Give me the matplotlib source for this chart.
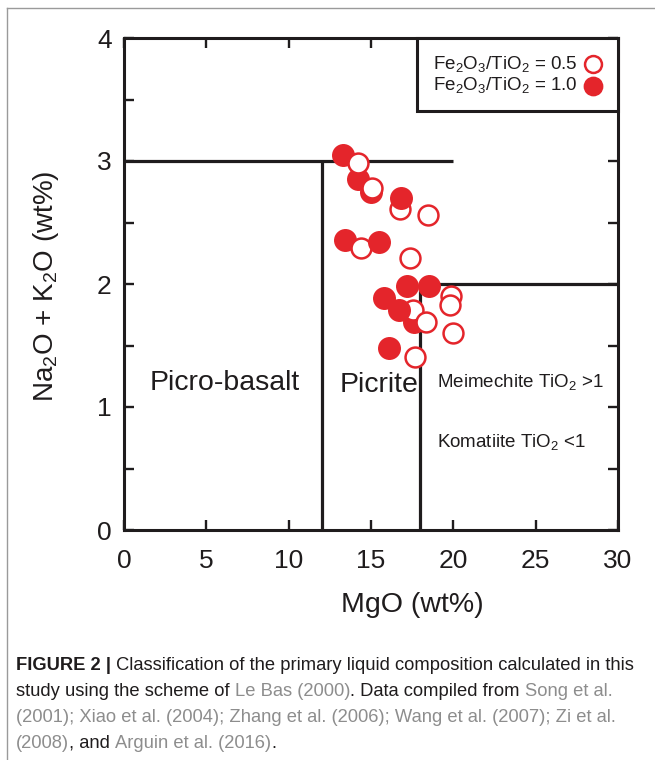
import matplotlib
matplotlib.use("Agg")
import matplotlib.pyplot as plt
from matplotlib.lines import Line2D
from matplotlib.ticker import MultipleLocator

# ---------------- data ----------------
mgo_05 = [14.2, 15.05, 16.75, 18.45, 14.4, 17.35, 19.85, 19.8, 17.55, 18.35, 19.95, 17.7]
alk_05 = [2.98, 2.78, 2.61, 2.56, 2.29, 2.21, 1.90, 1.83, 1.79, 1.69, 1.60, 1.41]

mgo_10 = [13.3, 14.2, 15.0, 16.8, 13.45, 15.5, 17.2, 18.55, 15.8, 16.7, 17.6, 16.1]
alk_10 = [3.05, 2.85, 2.75, 2.70, 2.36, 2.34, 1.98, 1.98, 1.89, 1.79, 1.69, 1.48]

# which filled symbols are drawn above the open ones (stacking order only)
filled_on_top = [3, 5, 6, 7, 8, 9]

# field boundaries (Le Bas 2000)
boundary_x = [[0, 20], [12, 12], [18, 18], [18, 30]]
boundary_y = [[3, 3], [0, 3], [0, 2], [2, 2]]

label_05 = r"Fe$_2$O$_3$/TiO$_2$ = 0.5"
label_10 = r"Fe$_2$O$_3$/TiO$_2$ = 1.0"

x_ticks = [0, 5, 10, 15, 20, 25, 30]
y_ticks = [0, 1, 2, 3, 4]

RED = "#e4252b"
INK = "#1f1c1d"
LINK = "#8d8d8d"

plt.rcParams["font.family"] = ["Liberation Sans", "DejaVu Sans"]
plt.rcParams["mathtext.default"] = "regular"

W, H = 655, 760
fig = plt.figure(figsize=(W / 100, H / 100), dpi=100)
ax = fig.add_axes([124 / W, 1 - 530 / H, (618 - 124) / W, (530 - 38) / H])

for bx, by in zip(boundary_x, boundary_y):
    ax.plot(bx, by, color=INK, lw=2.3, solid_capstyle="butt", zorder=2)

under_x = [m for i, m in enumerate(mgo_10) if i not in filled_on_top]
under_y = [a for i, a in enumerate(alk_10) if i not in filled_on_top]
over_x = [mgo_10[i] for i in filled_on_top]
over_y = [alk_10[i] for i in filled_on_top]

sc_10 = ax.scatter(under_x, under_y, s=235, facecolor=RED, edgecolor=RED,
                   linewidth=1.2, zorder=3)
sc_05 = ax.scatter(mgo_05, alk_05, s=205, facecolor="white", edgecolor=RED,
                   linewidth=1.8, zorder=4)
ax.scatter(over_x, over_y, s=235, facecolor=RED, edgecolor=RED,
           linewidth=1.2, zorder=5)

ax.set_xlim(0, 30)
ax.set_ylim(0, 4)
ax.set_xticks(x_ticks)
ax.set_yticks(y_ticks)
ax.yaxis.set_minor_locator(MultipleLocator(0.5))
ax.tick_params(axis="both", which="both", direction="in", top=True, right=True,
               length=7.5, width=1.7, color=INK)
ax.tick_params(axis="x", which="major", labelsize=19, pad=14, labelcolor=INK)
ax.tick_params(axis="y", which="major", labelsize=19, pad=9, labelcolor=INK)
for sp in ax.spines.values():
    sp.set_linewidth(2.2)
    sp.set_color(INK)

ax.set_xlabel("MgO (wt%)", fontsize=20.5, color=INK, va="top")
ax.xaxis.set_label_coords(0.583, -0.125)
ax.set_ylabel(r"Na$_2$O + K$_2$O (wt%)", fontsize=20, color=INK, va="bottom")
ax.yaxis.set_label_coords(-0.128, 0.496)

ax.text(6.1, 1.195, "Picro-basalt", fontsize=20.5, ha="center", va="center", color=INK)
ax.text(15.5, 1.18, "Picrite", fontsize=20.5, ha="center", va="center", color=INK)
ax.text(19.0, 1.20, r"Meimechite TiO$_2$ >1", fontsize=13.5, ha="left", va="center", color=INK)
ax.text(19.0, 0.715, r"Komatiite TiO$_2$ <1", fontsize=13.5, ha="left", va="center", color=INK)

leg = ax.legend([sc_05, sc_10], [label_05, label_10], loc="upper right",
                markerfirst=False, fancybox=False, framealpha=1, edgecolor=INK,
                fontsize=13.5, borderaxespad=0, handletextpad=0.3,
                labelspacing=0.08, borderpad=0.85, markerscale=0.85,
                handlelength=1.0)
leg.get_frame().set_linewidth(2.2)
leg.set_zorder(6)
for t in leg.get_texts():
    t.set_color(INK)

# figure frame (grey border lines)
fig.add_artist(Line2D([7 / W, 7 / W], [0, 1 - 8 / H], color="#9a9a9a", lw=1.0))
fig.add_artist(Line2D([7 / W, 1], [1 - 8 / H, 1 - 8 / H], color="#9a9a9a", lw=1.0))

# ---------------- caption ----------------
cap_family = ["Liberation Sans Narrow", "Liberation Sans", "DejaVu Sans"]
cap_size = 13.2
caption_lines = [
    [("FIGURE 2 |", INK, "bold"),
     (" Classification of the primary liquid composition calculated in this", INK, "normal")],
    [("study using the scheme of ", INK, "normal"), ("Le Bas (2000)", LINK, "normal"),
     (". Data compiled from ", INK, "normal"), ("Song et al.", LINK, "normal")],
    [("(2001); Xiao et al. (2004); Zhang et al. (2006); Wang et al. (2007); Zi et al.", LINK, "normal")],
    [("(2008)", LINK, "normal"), (", and ", INK, "normal"),
     ("Arguin et al. (2016)", LINK, "normal"), (".", INK, "normal")],
]
caption_baselines = [670, 696, 722, 748]

fig.canvas.draw()
renderer = fig.canvas.get_renderer()


def seg_width(txt, weight):
    t1 = fig.text(0, 0, "x" + txt + "x", fontsize=cap_size, family=cap_family, fontweight=weight)
    t2 = fig.text(0, 0, "xx", fontsize=cap_size, family=cap_family, fontweight=weight)
    w = t1.get_window_extent(renderer).width - t2.get_window_extent(renderer).width
    t1.remove()
    t2.remove()
    return w


for segs, yb in zip(caption_lines, caption_baselines):
    xpx = 16
    for txt, col, wt in segs:
        fig.text(xpx / W, 1 - yb / H, txt, fontsize=cap_size, family=cap_family,
                 fontweight=wt, color=col, va="baseline", ha="left")
        xpx += seg_width(txt, wt)

fig.savefig("out.png", dpi=100, facecolor="white")
